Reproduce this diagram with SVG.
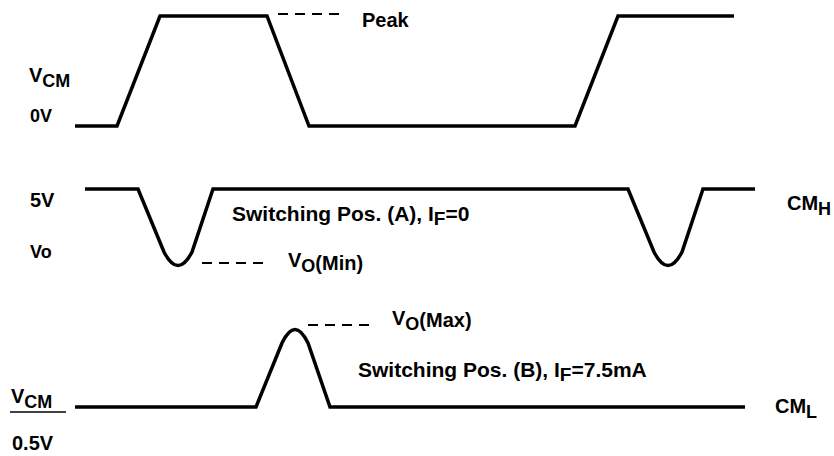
<svg xmlns="http://www.w3.org/2000/svg" width="834" height="456" viewBox="0 0 834 456">
<style>
.w{fill:none;stroke:#000;stroke-width:3.5;stroke-linejoin:miter;stroke-linecap:butt}
.d{fill:none;stroke:#000;stroke-width:2;stroke-dasharray:10 7}
text{font-family:"Liberation Sans",Arial,sans-serif;font-weight:bold;font-size:20px;fill:#000}
.s{font-size:18px}
.big{font-size:21px}
.big .s{font-size:19px}
</style>
<rect width="834" height="456" fill="#fff"/>
<g id="connectors">
<path id="vcm-wave" class="w" d="M75,126 H117 L160,16 H267 L309,126 H575 L618,16 H734"/>
<path id="vo-a-wave" class="w" d="M85,189 H138 L164,252 Q178,279 192,252 L213,189 H628 L654,252 Q668,279 682,252 L703,189 H755"/>
<path id="vo-b-wave" class="w" d="M75,407 H256 L282,343 Q295,316 308,343 L330,407 H745"/>
<line class="d" x1="278" y1="14" x2="339" y2="14"/>
<line class="d" x1="202" y1="263" x2="263" y2="263"/>
<line class="d" x1="308" y1="325" x2="371" y2="325"/>
</g>
<g id="label-peak"><text x="362" y="27">Peak</text></g>
<g id="label-vcm-top"><text x="29" y="82">V<tspan class="s" dy="5">CM</tspan></text></g>
<g id="label-0v"><text x="30" y="122" style="font-size:18px">0V</text></g>
<g id="label-5v"><text x="30" y="207">5V</text></g>
<g id="label-vo"><text x="30" y="258" style="font-size:18px">Vo</text></g>
<g id="label-pos-a"><text class="big" x="232" y="221">Switching Pos. (A), I<tspan class="s" dy="4">F</tspan><tspan dy="-4">=0</tspan></text></g>
<g id="label-vomin"><text x="288" y="267">V<tspan class="s" dy="5">O</tspan><tspan dy="-2">(Min)</tspan></text></g>
<g id="label-cmh"><text x="787" y="210">CM<tspan class="s" dy="5">H</tspan></text></g>
<g id="label-vomax"><text x="392" y="325">V<tspan class="s" dy="5">O</tspan><tspan dy="-3">(Max)</tspan></text></g>
<g id="label-pos-b"><text class="big" x="358" y="377">Switching Pos. (B), I<tspan class="s" dy="4">F</tspan><tspan dy="-4">=7.5mA</tspan></text></g>
<g id="label-cml"><text x="775" y="413">CM<tspan class="s" dy="5">L</tspan></text></g>
<g id="label-vcm-bottom"><text x="11" y="403">V<tspan class="s" dy="5">CM</tspan></text><line x1="10" y1="412" x2="66" y2="412" stroke="#000" stroke-width="1.5"/></g>
<g id="label-05v"><text x="12" y="450">0.5V</text></g>
</svg>
